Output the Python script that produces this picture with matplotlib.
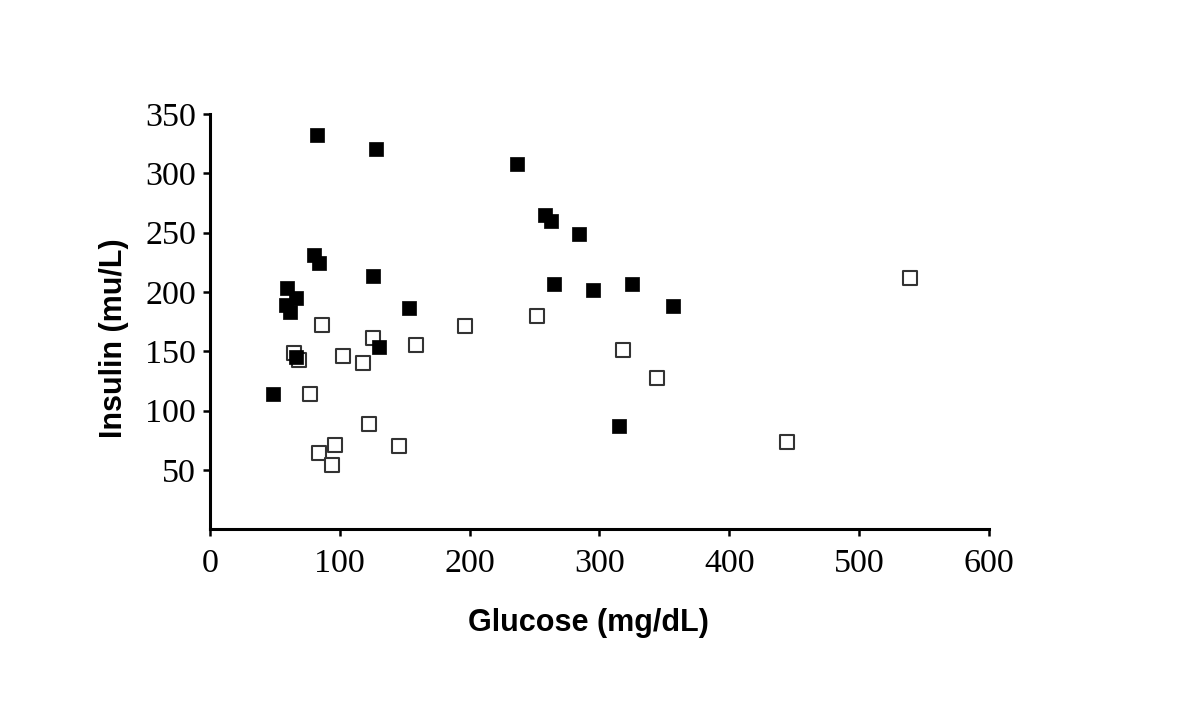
import numpy as np
import matplotlib.pyplot as plt

# Glukose (mg/dL) og insulin (mu/L), fylte punkter
glu_fylt = [82.6, 127.9, 236.7, 258.0, 262.9, 284.0, 80.3, 84.0, 125.5, 59.5, 265.0,
            295.0, 325.0, 66.0, 58.8, 61.6, 153.5, 356.8, 129.9, 66.5, 48.5, 315.0]
ins_fylt = [332.5, 320.7, 307.8, 264.9, 259.8, 248.6, 230.9, 224.4, 213.4, 203.3, 206.5,
            201.4, 206.5, 194.9, 188.8, 183.4, 186.5, 188.4, 153.4, 144.9, 114.3, 87.3]

# åpne punkter
glu_apen = [86.5, 125.5, 158.7, 196.6, 64.5, 68.5, 102.7, 117.6, 76.8, 122.7, 96.5,
            83.7, 94.0, 145.8, 251.9, 317.9, 344.1, 539.2, 444.2]
ins_apen = [172.4, 161.2, 155.3, 171.3, 148.3, 142.4, 146.3, 140.1, 114.3, 89.0, 71.0,
            64.0, 53.9, 69.9, 179.5, 151.1, 127.2, 211.5, 73.8]

xticks = [0, 100, 200, 300, 400, 500, 600]
yticks = [50, 100, 150, 200, 250, 300, 350]

fig = plt.figure(figsize=(12, 7.07), dpi=100)
ax = fig.add_axes([0.175, 0.2513, 0.649, 0.5875])

ax.scatter(glu_apen, ins_apen, marker='s', s=90, facecolor='white',
           edgecolor='#333333', linewidth=1.5, zorder=3)
ax.scatter(glu_fylt, ins_fylt, marker='s', s=100, facecolor='black',
           edgecolor='black', linewidth=0.5, zorder=4)

ax.set_xlim(0, 600)
ax.set_ylim(0, 350)
ax.set_xticks(xticks)
ax.set_yticks(yticks)

for s in ['top', 'right']:
    ax.spines[s].set_visible(False)
for s in ['left', 'bottom']:
    ax.spines[s].set_linewidth(2.2)
ax.tick_params(axis='x', direction='out', length=5, width=1.8, pad=9)
ax.tick_params(axis='y', direction='out', length=5, width=1.8, pad=5)

serif = {'family': 'Liberation Serif', 'size': 24.5}
ax.set_xticklabels([str(t) for t in xticks], fontdict=serif)
ax.set_yticklabels([str(t) for t in yticks], fontdict=serif)

ax.set_xlabel('Glucose (mg/dL)', family='Liberation Sans', weight='bold', size=22)
ax.set_ylabel('Insulin (mu/L)', family='Liberation Sans', weight='bold', size=22)
# etiketter litt forskjøvet som i originalen
ax.xaxis.set_label_coords(0.4865, -0.19)
ax.yaxis.set_label_coords(-0.104, 0.46)

plt.savefig('out.png', dpi=100)
